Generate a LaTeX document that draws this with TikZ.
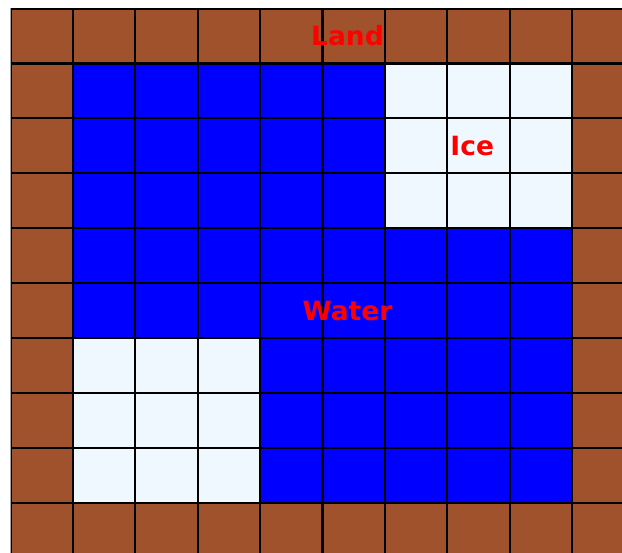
\documentclass[tikz,border=0pt]{standalone}
\usepackage{fontspec}
\setsansfont{DejaVu Sans}
\usepackage{xcolor}
\definecolor{cLand}{HTML}{A0522D}
\definecolor{cWater}{HTML}{0000FF}
\definecolor{cIce}{HTML}{F0F8FF}
\definecolor{cLabel}{HTML}{FF0000}
\usepackage{tikz}
\tikzset{
  cell-land/.style={fill=cLand},
  cell-water/.style={fill=cWater},
  cell-ice/.style={fill=cIce},
  grid-line/.style={draw=black,line width=2.2pt,xstep=62.4pt,ystep=54.95pt},
  region-label/.style={text=cLabel,font=\sffamily\bfseries\fontsize{26.5}{30}\selectfont,inner sep=0pt},
}

\begin{document}
\begin{tikzpicture}[x=62.4pt,y=-54.95pt]
  \useasboundingbox (-10.5pt,8.5pt) rectangle (611.5pt,-544.5pt);
  \clip (0,0) rectangle (611.5pt,-544.5pt);
  % land border, water basin, two ice patches
  \fill[cell-land] (0,0) rectangle (10,10);
  \fill[cell-water] (1,1) rectangle (9,9);
  \fill[cell-ice] (6,1) rectangle (9,4);
  \fill[cell-ice] (1,6) rectangle (4,9);
  \draw[grid-line] (0,0) grid (10,10);
  \node[region-label] (land) at (5.4,0.5) {Land};
  \node[region-label] (ice) at (7.4,2.5) {Ice};
  \node[region-label] (water) at (5.4,5.5) {Water};
\end{tikzpicture}
\end{document}
